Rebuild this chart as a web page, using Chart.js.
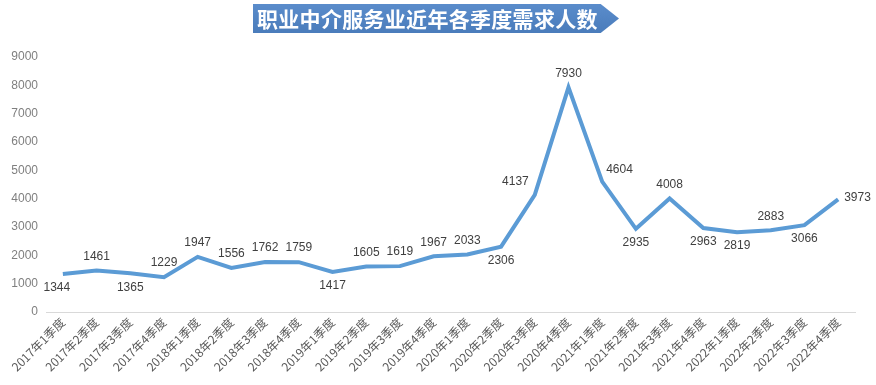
<!DOCTYPE html>
<html>
<head>
<meta charset="utf-8">
<script src="https://cdn.jsdelivr.net/npm/chart.js@4/dist/chart.umd.min.js"></script>
<style>
  body { margin: 0; background: #fff; }
  #wrap { position: relative; width: 876px; height: 385px; }
  #title {
    position: absolute; left: 253px; top: 4px; width: 366px; height: 29px;
    background: linear-gradient(#5a8ccb, #4a7cbb);
    clip-path: polygon(0 0, 95% 0, 100% 50%, 95% 100%, 0 100%);
    color: #fff; font: bold 21px "Noto Sans CJK SC", sans-serif;
    line-height: 29px; padding-left: 4px; box-sizing: border-box; letter-spacing: 0.3px;
  }
</style>
</head>
<body>
<div id="wrap">
  <canvas id="c" width="876" height="385"></canvas>
  <div id="title">职业中介服务业近年各季度需求人数</div>
</div>
<script>
// 季度 & 人数
const quarters = [
  '2017年1季度', '2017年2季度', '2017年3季度', '2017年4季度',
  '2018年1季度', '2018年2季度', '2018年3季度', '2018年4季度',
  '2019年1季度', '2019年2季度', '2019年3季度', '2019年4季度',
  '2020年1季度', '2020年2季度', '2020年3季度', '2020年4季度',
  '2021年1季度', '2021年2季度', '2021年3季度', '2021年4季度',
  '2022年1季度', '2022年2季度', '2022年3季度', '2022年4季度'
];
const demand = [1344, 1461, 1365, 1229, 1947, 1556, 1762, 1759, 1417, 1605, 1619, 1967,
                2033, 2306, 4137, 7930, 4604, 2935, 4008, 2963, 2819, 2883, 3066, 3973];
const yTicks = [0, 1000, 2000, 3000, 4000, 5000, 6000, 7000, 8000, 9000];

// 数据标签位置 (b=下, t=上, l=左, r=右)
const labelPos = ['b', 't', 'b', 't', 't', 't', 't', 't', 'b', 't', 't', 't',
                  't', 'b', 'l', 't', 'r', 'b', 't', 'b', 'b', 't', 'b', 'r'];

const dataLabels = {
  id: 'dataLabels',
  afterDatasetsDraw(chart) {
    const ctx = chart.ctx;
    const pts = chart.getDatasetMeta(0).data;
    ctx.save();
    ctx.font = '12px "Liberation Sans", sans-serif';
    ctx.fillStyle = '#404040';
    ctx.textBaseline = 'middle';
    pts.forEach((p, i) => {
      let x = p.x, y = p.y;
      ctx.textAlign = 'center';
      if (labelPos[i] === 't') y -= 14;
      else if (labelPos[i] === 'b') y += 14;
      else if (labelPos[i] === 'l') { x -= 6; y -= 13; ctx.textAlign = 'right'; }
      else if (labelPos[i] === 'r') { x += 4; y -= 12; ctx.textAlign = 'left'; }
      if (i === 0) { x -= 6; }
      if (i === 23) { x += 2; y += 10; }
      ctx.fillText(demand[i], x, y);
    });
    ctx.restore();
  }
};

new Chart(document.getElementById('c'), {
  type: 'line',
  data: {
    labels: quarters,
    datasets: [{
      data: demand,
      borderColor: '#5b9bd5',
      borderWidth: 4,
      pointRadius: 0,
      tension: 0,
      fill: false
    }]
  },
  options: {
    responsive: false,
    animation: false,
    layout: { padding: { top: 57, right: 21, left: 0, bottom: 0 } },
    plugins: { legend: { display: false }, tooltip: { enabled: false } },
    scales: {
      x: {
        offset: true,
        grid: { display: false, drawTicks: false },
        border: { color: '#d9d9d9', width: 1 },
        afterFit: axis => { axis.height = 73; },
        ticks: {
          color: '#595959', font: { size: 12, family: '"Noto Sans CJK SC", sans-serif' },
          maxRotation: 45, minRotation: 45, autoSkip: false, padding: 3
        }
      },
      y: {
        min: 0, max: 9000,
        afterBuildTicks: axis => { axis.ticks = yTicks.map(v => ({ value: v })); },
        afterFit: axis => { axis.width = 46; },
        grid: { display: false, drawTicks: false },
        border: { display: false },
        ticks: {
          color: '#7f7f7f', font: { size: 12, family: '"Liberation Sans", sans-serif' }, padding: 8,
          callback: v => String(v)
        }
      }
    }
  },
  plugins: [dataLabels]
});
</script>
</body>
</html>
